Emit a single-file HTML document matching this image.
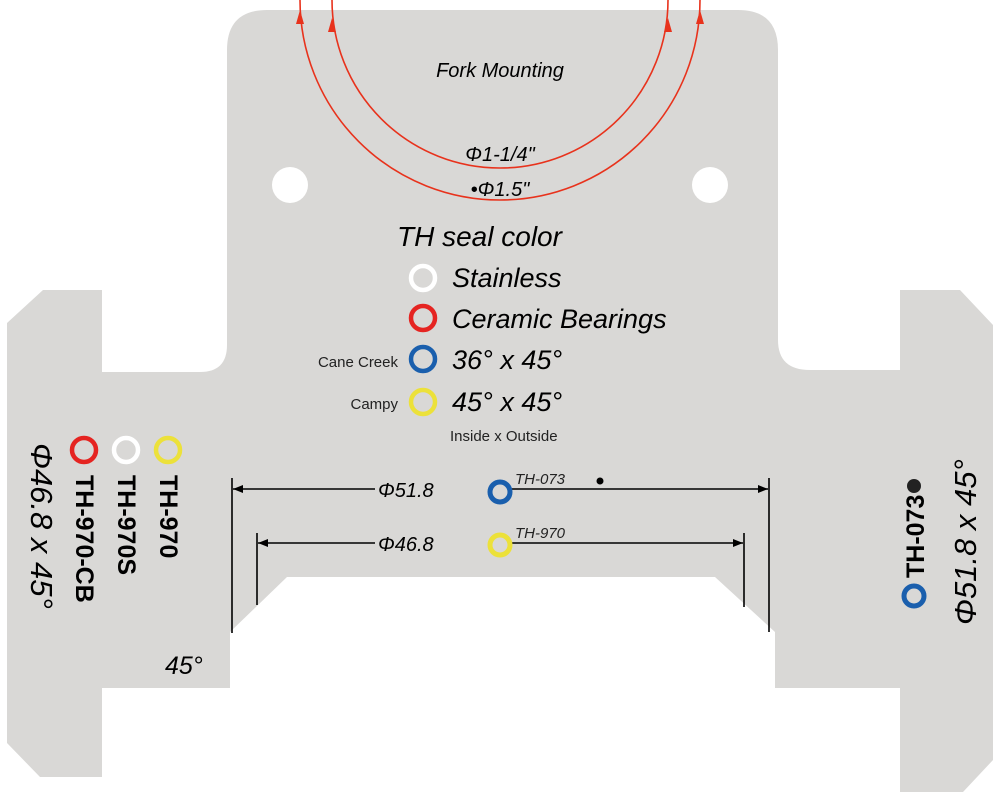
<!DOCTYPE html>
<html><head><meta charset="utf-8"><style>
html,body{margin:0;padding:0;background:#fff;width:1000px;height:805px;overflow:hidden}
svg{display:block}
text{font-family:"Liberation Sans",sans-serif}
.i{font-style:italic}
</style></head><body>
<svg width="1000" height="805" viewBox="0 0 1000 805">
<defs>
<marker id="ah" markerWidth="10" markerHeight="8" refX="10" refY="4" orient="auto" markerUnits="userSpaceOnUse"><path d="M0,0 L10,4 L0,8 Z" fill="#000"/></marker>
</defs>
<path fill="#d9d8d6" d="M43,290 L102,290 L102,372 L200,372 Q227,372 227,345 L227,50 Q227,10 267,10 L738,10 Q778,10 778,50 L778,340 Q778,370 810,370 L900,370 L900,290 L960,290 L993,325 L993,760 L963,792 L900,792 L900,688 L775,688 L775,632 L715,577 L287,577 L230,632 L230,688 L102,688 L102,777 L40,777 L7,743 L7,323 Z"/>
<circle cx="290" cy="185" r="18" fill="#fff"/>
<circle cx="710" cy="185" r="18" fill="#fff"/>
<path d="M300,0 A200,200 0 0 0 700,0" fill="none" stroke="#e8321c" stroke-width="1.6"/>
<path d="M332,0 A168,168 0 0 0 668,0" fill="none" stroke="#e8321c" stroke-width="1.6"/>
<path d="M296,24 L300,10 L304,24Z M328,32 L332,18 L336,32Z M664,32 L668,18 L672,32Z M696,24 L700,10 L704,24Z" fill="#e8321c"/>
<text x="500" y="77" class="i" font-size="20" text-anchor="middle">Fork Mounting</text>
<text x="500" y="161" class="i" font-size="20" text-anchor="middle">Φ1-1/4"</text>
<text x="500" y="196" class="i" font-size="20" text-anchor="middle">•Φ1.5"</text>
<text x="397" y="246" class="i" font-size="28">TH seal color</text>
<circle cx="423" cy="278" r="12" fill="none" stroke="#fff" stroke-width="4.5"/>
<circle cx="423" cy="318" r="12" fill="none" stroke="#e52421" stroke-width="4.5"/>
<circle cx="423" cy="359" r="12" fill="none" stroke="#1a5fad" stroke-width="4.5"/>
<circle cx="423" cy="402" r="12" fill="none" stroke="#ece13a" stroke-width="4.5"/>
<text x="452" y="287" class="i" font-size="27">Stainless</text>
<text x="452" y="328" class="i" font-size="27">Ceramic Bearings</text>
<text x="452" y="369" class="i" font-size="27">36° x 45°</text>
<text x="452" y="411" class="i" font-size="27">45° x 45°</text>
<text x="398" y="367" font-size="15" text-anchor="end" fill="#222">Cane Creek</text>
<text x="398" y="409" font-size="15" text-anchor="end" fill="#222">Campy</text>
<text x="450" y="441" font-size="15" fill="#222">Inside x Outside</text>
<g stroke="#000" stroke-width="1.6" fill="none">
<line x1="232" y1="478" x2="232" y2="633"/>
<line x1="769" y1="478" x2="769" y2="632"/>
<line x1="257" y1="533" x2="257" y2="605"/>
<line x1="744" y1="533" x2="744" y2="607"/>
<line x1="375" y1="489" x2="233" y2="489" marker-end="url(#ah)"/>
<line x1="500" y1="489" x2="768" y2="489" marker-end="url(#ah)"/>
<line x1="375" y1="543" x2="258" y2="543" marker-end="url(#ah)"/>
<line x1="500" y1="543" x2="743" y2="543" marker-end="url(#ah)"/>
</g>
<rect x="382" y="478" width="100" height="22" fill="#d9d8d6"/>
<rect x="382" y="532" width="100" height="22" fill="#d9d8d6"/>
<text x="378" y="497" class="i" font-size="20">Φ51.8</text>
<text x="378" y="551" class="i" font-size="20">Φ46.8</text>
<circle cx="500" cy="492" r="10" fill="#d9d8d6" stroke="#1a5fad" stroke-width="5"/>
<circle cx="500" cy="545" r="10" fill="#d9d8d6" stroke="#ece13a" stroke-width="5"/>
<text x="515" y="484" class="i" font-size="15" fill="#222">TH-073</text>
<circle cx="600" cy="481" r="3.5" fill="#000"/>
<text x="515" y="538" class="i" font-size="15" fill="#222">TH-970</text>
<text x="165" y="674" class="i" font-size="25">45°</text>
<circle cx="84" cy="450" r="12" fill="none" stroke="#e52421" stroke-width="4.5"/>
<circle cx="126" cy="450" r="12" fill="none" stroke="#fff" stroke-width="4.5"/>
<circle cx="168" cy="450" r="12" fill="none" stroke="#ece13a" stroke-width="4.5"/>
<text transform="translate(160,475) rotate(90)" font-size="25" font-weight="bold">TH-970</text>
<text transform="translate(118,475) rotate(90)" font-size="25" font-weight="bold">TH-970S</text>
<text transform="translate(76,475) rotate(90)" font-size="25" font-weight="bold">TH-970-CB</text>
<text transform="translate(31,443) rotate(90)" class="i" font-size="31">Φ46.8 x 45°</text>
<circle cx="914" cy="596" r="10" fill="none" stroke="#1a5fad" stroke-width="5"/>
<text transform="translate(924,578) rotate(-90)" font-size="25" font-weight="bold">TH-073</text>
<circle cx="914" cy="486" r="7" fill="#222"/>
<text transform="translate(976,625) rotate(-90)" class="i" font-size="31">Φ51.8 x 45°</text>
</svg>
</body></html>
